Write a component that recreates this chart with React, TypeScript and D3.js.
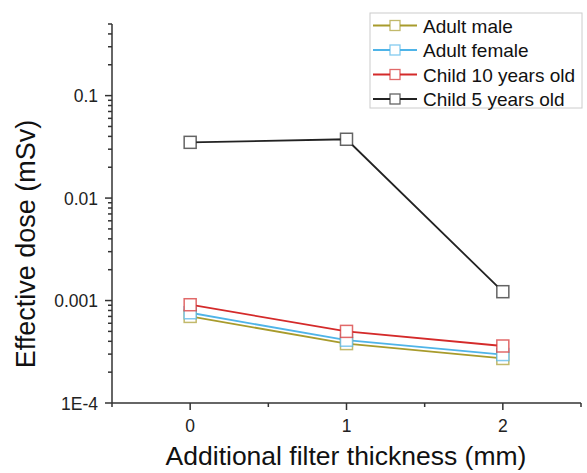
import { useEffect, useRef } from 'react'
import * as d3 from 'd3'

const thickness = [0, 1, 2]
const seriesNames = ['Adult male', 'Adult female', 'Child 10 years old', 'Child 5 years old']
const seriesColors = ['#a89b2c', '#4fb4e8', '#d42a2a', '#222222']
const adultMale = [0.0007, 0.00038, 0.000272]
const adultFemale = [0.00076, 0.00041, 0.000297]
const child10 = [0.00091, 0.0005, 0.00036]
const child5 = [0.035, 0.0375, 0.00122]
const yTicks = [1e-4, 0.001, 0.01, 0.1]
const yTickLabels = ['1E-4', '0.001', '0.01', '0.1']

const W = 587
const H = 473

export default function App() {
  const ref = useRef<SVGSVGElement>(null)

  useEffect(() => {
    const svg = d3.select(ref.current)
    svg.selectAll('*').remove()
    const font = '"Liberation Sans", Arial, sans-serif'

    const x = d3.scaleLinear().domain([-0.5, 2.5]).range([112, 581])
    const y = d3.scaleLog().domain([1e-4, 0.5]).range([403, 24])

    const values = [adultMale, adultFemale, child10, child5]

    // y axis
    const ya = svg.append('g').attr('stroke', '#333').attr('stroke-width', 1.5)
    ya.append('line').attr('x1', x(-0.5)).attr('x2', x(-0.5)).attr('y1', y(1e-4)).attr('y2', y(0.5))
    const minors: number[] = []
    for (let e = -4; e <= -1; e++) {
      for (let m = 2; m <= 9; m++) {
        const v = m * Math.pow(10, e)
        if (v <= 0.5) minors.push(v)
      }
    }
    ya.selectAll('line.minor').data(minors).enter().append('line')
      .attr('x1', x(-0.5) - 4).attr('x2', x(-0.5))
      .attr('y1', (d) => y(d)).attr('y2', (d) => y(d))
    ya.selectAll('line.major').data(yTicks).enter().append('line')
      .attr('x1', x(-0.5) - 7).attr('x2', x(-0.5))
      .attr('y1', (d) => y(d)).attr('y2', (d) => y(d))
    svg.selectAll('text.ytick').data(yTicks).enter().append('text')
      .attr('x', x(-0.5) - 14).attr('y', (d) => y(d) + 6.5)
      .attr('text-anchor', 'end').attr('font-family', font).attr('font-size', 17.5).attr('fill', '#222')
      .text((d, i) => yTickLabels[i])

    // x axis
    const xa = svg.append('g').attr('stroke', '#333').attr('stroke-width', 1.5)
    xa.append('line').attr('x1', x(-0.5)).attr('x2', x(2.5)).attr('y1', y(1e-4)).attr('y2', y(1e-4))
    xa.selectAll('line.major').data(thickness).enter().append('line')
      .attr('x1', (d) => x(d)).attr('x2', (d) => x(d))
      .attr('y1', y(1e-4)).attr('y2', y(1e-4) + 7)
    xa.selectAll('line.minor').data([-0.5, 0.5, 1.5, 2.5]).enter().append('line')
      .attr('x1', (d) => x(d)).attr('x2', (d) => x(d))
      .attr('y1', y(1e-4)).attr('y2', y(1e-4) + 4)
    svg.selectAll('text.xtick').data(thickness).enter().append('text')
      .attr('x', (d) => x(d)).attr('y', y(1e-4) + 29)
      .attr('text-anchor', 'middle').attr('font-family', font).attr('font-size', 17.5).attr('fill', '#222')
      .text((d) => String(d))

    // axis titles
    svg.append('text')
      .attr('x', 346).attr('y', 465)
      .attr('text-anchor', 'middle').attr('font-family', font).attr('font-size', 26.5).attr('fill', '#111')
      .text('Additional filter thickness (mm)')
    svg.append('text')
      .attr('transform', 'translate(35,244) rotate(-90)')
      .attr('text-anchor', 'middle').attr('font-family', font).attr('font-size', 27).attr('fill', '#111')
      .text('Effective dose (mSv)')

    // series
    const line = d3.line<number>().x((d, i) => x(thickness[i])).y((d) => y(d))
    values.forEach((vals, si) => {
      svg.append('path').attr('d', line(vals)).attr('fill', 'none')
        .attr('stroke', seriesColors[si]).attr('stroke-width', 1.8)
    })
    values.forEach((vals, si) => {
      svg.append('g').selectAll('rect').data(vals).enter().append('rect')
        .attr('x', (d, i) => x(thickness[i]) - 6).attr('y', (d) => y(d) - 6)
        .attr('width', 12).attr('height', 12)
        .attr('fill', 'white').attr('stroke', seriesColors[si]).attr('stroke-opacity', 0.7)
        .attr('stroke-width', 1.5)
    })

    // legend
    const lg = svg.append('g')
    lg.append('rect').attr('x', 370).attr('y', 13).attr('width', 212).attr('height', 95)
      .attr('fill', 'white').attr('stroke', '#ccc').attr('stroke-width', 1)
    seriesNames.forEach((name, i) => {
      const cy = 25.5 + i * 24.5
      lg.append('line').attr('x1', 373).attr('x2', 417).attr('y1', cy).attr('y2', cy)
        .attr('stroke', seriesColors[i]).attr('stroke-width', 1.8)
      lg.append('rect').attr('x', 390).attr('y', cy - 5).attr('width', 10).attr('height', 10)
        .attr('fill', 'white').attr('stroke', seriesColors[i]).attr('stroke-opacity', 0.7).attr('stroke-width', 1.3)
      lg.append('text').attr('x', 423).attr('y', cy + 7)
        .attr('font-family', font).attr('font-size', 19).attr('fill', '#111')
        .text(name)
    })
  }, [])

  return (
    <svg ref={ref} width={W} height={H} style={{ position: 'absolute', left: 0, top: 0, background: 'white' }} />
  )
}
